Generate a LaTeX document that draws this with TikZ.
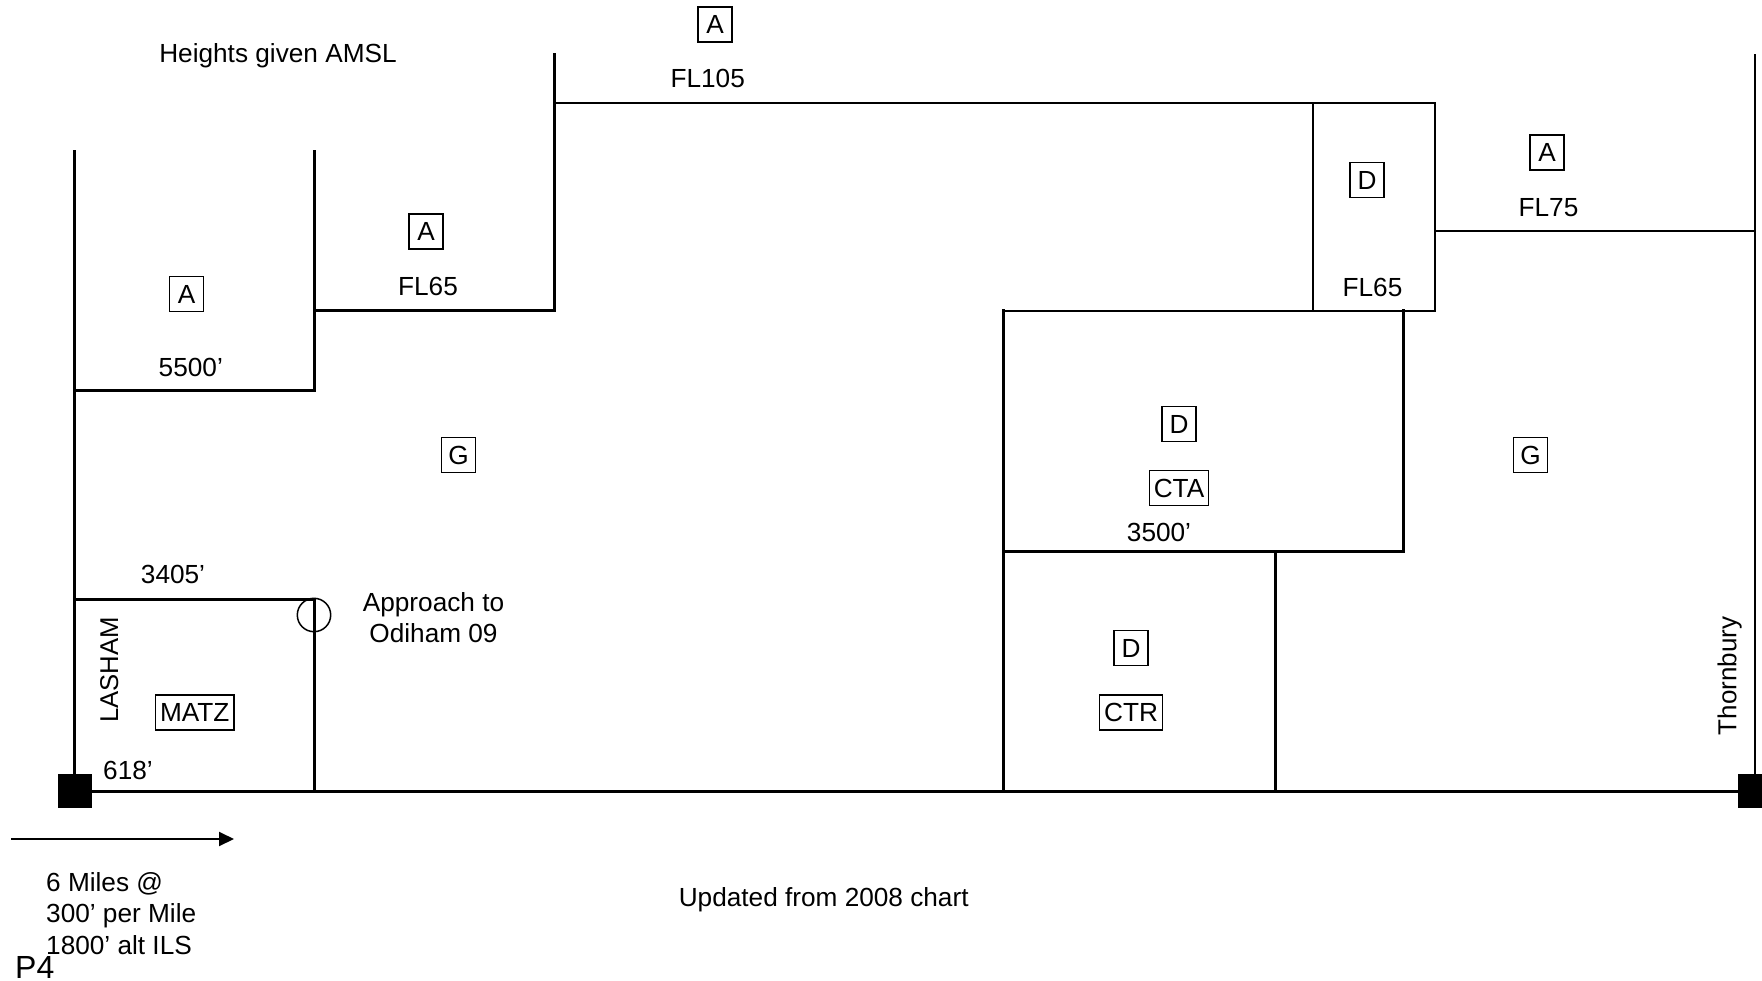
\documentclass[tikz,border=0pt]{standalone}
\usepackage{fontspec}
\setmainfont{Liberation Sans}
\usetikzlibrary{arrows.meta}
\tikzset{
  thick line/.style={line width=3pt, line cap=rect},
  thin line/.style={line width=2pt, line cap=rect},
  hair line/.style={line width=1.5pt},
  lbl/.style={inner sep=0pt, text height=18.8pt, text depth=0pt, font=\fontsize{26.2}{31}\selectfont},
  zone/.style={draw, line width=1.5pt, inner xsep=4.5pt, inner ysep=0pt, minimum width=34pt, minimum height=35pt, text height=18.8pt, text depth=0pt, font=\fontsize{26.2}{31}\selectfont},
}
\begin{document}
\begin{tikzpicture}[x=1pt, y=-1pt]
\useasboundingbox (0,0) rectangle (1762,981);

% thick structure lines
\draw[thick line] (74,152) -- (74,791);
\draw[thick line] (314,152) -- (314,391);
\draw[thick line] (74,391) -- (314,391);
\draw[thick line] (314,311) -- (554,311);
\draw[thick line] (554,55) -- (554,311);
\draw[thick line, line join=miter] (74,599) -- (314,599) -- (314,791);
\draw[thick line] (74,791) -- (1755,791);
\draw[thick line] (1003,311) -- (1003,791);
\draw[thick line, line join=miter] (1003,551) -- (1403,551) -- (1403,311);
\draw[thick line] (1275,551) -- (1275,791);

% thin structure lines
\draw[thin line, line join=miter] (554,103) -- (1435,103) -- (1435,311);
\draw[thin line] (1003,311) -- (1435,311);
\draw[hair line] (1313,103) -- (1313,311);
\draw[thin line] (1435,231.5) -- (1755,231.5);
\draw[thin line] (1755,55) -- (1755,791);

% approach circle
\draw[hair line] (314,615) circle[radius=16.7];

% airfield markers
\node[fill=black, minimum size=34pt, inner sep=0pt] (lasham) at (75,791) {};
\node[fill=black, minimum size=34pt, inner sep=0pt] (thorn) at (1755,791) {};

% scale arrow
\coordinate (arrS) at (11,839);
\coordinate (arrE) at (234,839);
\draw[line width=2pt, -{Triangle[length=15pt,width=14pt]}] (arrS) -- (arrE);

% zone labels
\node[zone] (a1) at (186.5,294) {A};
\node[lbl] (h1) at (190.8,367) {5500’};
\node[zone] (a2) at (426,231.5) {A};
\node[lbl] (h2) at (428,286.5) {FL65};
\node[zone] (a3) at (715,24.5) {A};
\node[lbl] (h3) at (707.7,78) {FL105};
\node[zone] (d1) at (1367,180) {D};
\node[lbl] (h4) at (1372.5,286.7) {FL65};
\node[zone] (a4) at (1547,152.5) {A};
\node[lbl] (h5) at (1548.5,206.7) {FL75};
\node[zone] (g1) at (458.5,455) {G};
\node[zone] (g2) at (1530.5,455) {G};
\node[zone] (d2) at (1179,424) {D};
\node[zone] (cta) at (1179,488) {CTA};
\node[lbl] (h6) at (1159,532) {3500’};
\node[zone] (d3) at (1131,648) {D};
\node[zone] (ctr) at (1131,712.5) {CTR};
\node[lbl] (h7) at (173,574) {3405’};
\node[zone] (matz) at (194.7,712.5) {MATZ};
\node[lbl] (h8) at (128,770) {618’};

\node[lbl] (amsl) at (278,53) {Heights given AMSL};
\node[lbl] (app1) at (433.5,601.7) {Approach to};
\node[lbl] (app2) at (433.5,633) {Odiham 09};

\node[lbl, rotate=90, font=\fontsize{25.7}{30}\selectfont, text height=18.4pt] (lname) at (109,670) {LASHAM};
\node[lbl, rotate=90, font=\fontsize{26}{30}\selectfont, text height=18.6pt, text depth=5pt] (tname) at (1729.5,676) {Thornbury};

\node[lbl, anchor=west] (m1) at (46,882) {6 Miles @};
\node[lbl, anchor=west] (m2) at (46,913.5) {300’ per Mile};
\node[lbl, anchor=west] (m3) at (46,945) {1800’ alt ILS};

\node[lbl] (upd) at (823.7,896.7) {Updated from 2008 chart};
\node[lbl, anchor=west, font=\fontsize{32}{36}\selectfont, text height=23pt] (p4) at (15,967) {P4};
\end{tikzpicture}
\end{document}
